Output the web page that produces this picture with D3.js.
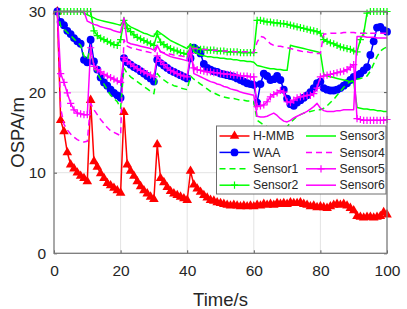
<!DOCTYPE html>
<html><head><meta charset="utf-8">
<script src="https://cdn.jsdelivr.net/npm/d3@7"></script>
<style>body{margin:0;background:#fff} svg{display:block} text{font-family:"Liberation Sans",Arial,Helvetica,sans-serif;fill:#262626}</style>
</head><body><svg id="c" width="407" height="309"></svg>
<script>
const time = d3.range(1, 101);
const hmmb = [30,16.5,15.1,12.5,11.0,10.5,10.0,9.6,9.3,8.9,
  19.0,11.4,10.7,9.9,9.3,8.7,8.4,8.1,7.8,7.5,
  17.5,11.0,10.2,9.6,8.9,8.3,7.8,7.4,7.0,6.7,
  13.5,9.3,8.8,8.2,7.7,7.4,7.2,7.0,6.8,6.6,
  10.2,8.5,8.0,7.6,7.2,6.9,6.6,6.5,6.3,6.2,
  6.1,6.0,5.9,6.0,5.9,5.8,5.9,5.8,5.9,5.8,
  6.0,5.9,6.1,6.0,6.1,6.0,6.2,6.1,6.2,6.1,
  6.3,6.2,6.2,6.3,6.1,6.0,5.8,5.9,5.7,5.8,
  5.7,5.6,5.8,6.0,6.1,6.0,6.1,5.9,5.6,5.3,
  4.6,4.5,4.4,4.5,4.5,4.4,4.5,4.6,5.1,4.8];
const waa = [30,28.7,28.3,27.6,27.2,26.7,26.3,26.0,24.0,23.7,
  26.5,23.8,22.8,21.8,21.2,20.8,20.3,19.9,19.6,19.3,
  24.2,23.7,23.4,23.1,22.9,22.6,22.3,22.0,21.7,21.3,
  24.0,23.6,23.3,23.0,22.7,22.5,22.3,22.1,21.9,21.7,
  24.2,25.5,25.2,24.8,23.5,23.0,22.8,22.6,22.5,22.3,
  22.2,22.1,22.0,21.9,21.7,21.5,21.3,21.1,21.0,20.9,
  18.7,21.0,22.3,22.0,21.5,21.6,22.0,21.5,20.3,19.2,
  18.5,18.3,18.7,19.0,19.3,19.6,20.0,20.5,21.1,21.3,
  20.5,20.3,20.2,20.2,20.3,20.5,20.8,21.1,21.5,21.9,
  22.1,22.3,22.7,23.1,24.6,26.3,28.0,28.1,27.7,27.5];
const sensor1 = [30,28.2,27.8,27.4,27.0,26.6,26.2,25.8,24.5,24.0,
  25.5,23.0,22.3,21.6,21.0,20.3,19.6,19.2,18.8,18.0,
  23.0,22.3,21.9,21.6,21.3,21.0,20.7,20.4,20.1,19.8,
  22.3,21.8,21.5,21.2,21.0,20.8,20.7,20.5,20.4,20.3,
  22.0,21.6,21.3,21.0,20.7,20.4,20.1,19.9,19.7,19.5,
  19.4,19.3,19.2,19.2,19.1,19.0,19.0,18.9,18.9,18.8,
  16.5,16.2,15.9,15.7,15.5,15.4,15.3,15.3,15.4,15.7,
  16.2,16.6,17.0,17.2,17.4,17.5,17.6,17.7,17.8,17.8,
  18.0,18.3,18.7,19.1,19.6,20.1,20.6,21.0,21.3,21.5,
  21.6,21.7,21.8,22.0,22.6,23.5,24.4,25.1,25.4,25.6];
const sensor2 = [30,30,30,30,30,30,30,30,30,30,
  30,27.6,27.0,26.7,26.5,26.3,26.1,25.9,25.8,26.5,
  28.9,27.9,27.5,27.1,26.8,26.6,26.4,26.2,26.0,25.8,
  27.2,26.2,25.9,25.6,25.4,25.2,25.1,24.9,24.8,24.7,
  25.6,25.5,25.4,25.3,25.3,25.2,25.2,25.2,25.1,25.1,
  25.1,25.0,25.0,25.0,25.0,24.9,24.9,24.9,24.9,24.9,
  28.9,28.9,28.8,28.7,28.7,28.6,28.6,28.5,28.5,28.4,
  28.3,28.2,28.1,28.0,27.9,27.8,27.7,27.6,27.5,27.3,
  26.5,26.3,26.1,26.0,25.8,25.6,25.5,25.4,25.3,25.1,
  25.0,26.5,27.3,29.8,30,30,30,30,30,30];
const sensor3 = [30,30,30,30,30,30,30,30,29.8,29.6,
  29.4,29.2,29.0,28.9,28.8,28.7,28.6,28.5,28.4,28.3,
  29.0,28.4,28.1,27.9,27.7,27.5,27.3,27.2,27.0,26.9,
  27.6,27.3,27.0,26.7,26.4,26.2,26.0,25.8,25.6,25.4,
  26.0,25.0,24.8,24.6,24.5,24.4,24.4,24.3,24.3,24.2,
  24.2,24.1,24.1,24.0,24.0,23.9,23.9,23.8,23.8,23.7,
  23.3,23.2,23.1,23.0,22.9,22.9,22.8,22.8,22.7,22.7,
  25.8,25.7,25.6,25.5,25.4,25.3,25.2,25.1,25.0,24.9,
  22.2,22.0,21.9,21.8,21.7,21.6,21.5,21.4,21.3,21.3,
  18.1,18.0,17.9,17.9,17.8,17.8,17.7,17.7,17.6,17.6];
const sensor4 = [30,18.0,16.0,15.3,14.8,14.4,14.1,13.9,13.8,13.9,
  18.6,17.8,17.2,16.6,16.1,15.6,15.2,15.0,14.8,14.6,
  26.5,25.7,25.5,25.4,25.3,25.2,25.1,25.0,24.9,24.8,
  25.6,25.0,24.9,24.8,24.7,24.6,24.5,24.5,24.4,24.4,
  25.5,25.4,25.4,25.3,25.3,25.3,25.2,25.2,25.2,25.1,
  25.1,25.1,25.1,25.0,25.0,25.0,25.0,25.0,24.9,24.9,
  26.2,26.9,26.8,26.4,26.0,25.8,25.7,25.7,25.6,25.5,
  25.4,25.3,25.2,25.1,25.0,25.0,24.9,24.9,24.8,24.8,
  27.2,27.2,27.3,27.3,27.3,27.3,27.4,27.4,27.4,27.4,
  27.3,27.3,27.3,27.3,27.3,27.3,27.3,27.3,27.3,27.3];
const sensor5 = [30,22.3,21.2,19.9,18.6,17.8,17.4,17.3,17.2,17.2,
  25.5,23.2,22.8,22.5,22.2,22.0,21.8,21.6,21.4,21.2,
  24.3,23.8,23.5,23.2,22.9,22.7,22.5,22.3,22.1,21.9,
  24.5,23.8,23.4,23.0,22.7,22.5,22.3,22.1,22.0,21.9,
  24.8,23.0,22.8,22.7,22.6,22.5,22.5,22.4,22.4,22.3,
  22.3,22.2,22.2,22.1,22.1,22.0,22.0,22.0,21.9,21.9,
  18.2,18.3,18.4,18.8,19.4,19.7,19.9,20.2,20.0,18.8,
  18.7,19.0,19.3,19.4,19.5,19.6,19.6,19.8,20.5,21.9,
  22.0,22.1,22.2,22.3,22.4,22.5,22.6,22.8,23.1,23.4,
  16.7,16.6,16.5,16.5,16.5,16.5,16.5,16.5,16.5,16.6];
const sensor6 = [30,30,30,30,30,30,30,30,30,28.8,
  28.6,28.4,28.3,28.1,28.0,27.9,27.8,27.6,27.5,27.4,
  29.2,26.2,26.0,25.9,25.8,25.7,25.6,25.5,25.4,25.2,
  25.8,25.0,24.8,24.6,24.4,24.3,24.2,24.1,24.0,23.9,
  25.6,22.3,22.1,21.9,21.7,21.5,21.3,21.2,21.0,20.9,
  20.7,20.6,20.4,20.3,20.2,20.0,19.9,19.8,19.7,19.6,
  17.0,16.9,16.9,17.0,17.2,17.4,17.1,16.7,16.4,16.3,
  16.5,16.8,17.0,17.2,17.4,17.6,17.9,18.2,18.6,18.0,
  17.7,17.6,17.6,17.6,17.7,17.7,17.8,17.8,17.8,17.8,
  26.9,26.9,26.9,26.8,26.8,26.8,26.7,26.7,26.7,26.7];
const xTicks = [0,20,40,60,80,100];
const yTicks = [0,10,20,30];

const series = [
  {name:"H-MMB", v:hmmb, color:"#ff0000", dash:null, marker:"tri"},
  {name:"WAA", v:waa, color:"#0000ff", dash:null, marker:"circle"},
  {name:"Sensor1", v:sensor1, color:"#00ff00", dash:"6,4", marker:null},
  {name:"Sensor2", v:sensor2, color:"#00ff00", dash:null, marker:"plus"},
  {name:"Sensor3", v:sensor3, color:"#00ff00", dash:null, marker:null},
  {name:"Sensor4", v:sensor4, color:"#ff00ff", dash:"6,4", marker:null},
  {name:"Sensor5", v:sensor5, color:"#ff00ff", dash:null, marker:"plus"},
  {name:"Sensor6", v:sensor6, color:"#ff00ff", dash:null, marker:null}
];

const svg = d3.select("#c");
const x = d3.scaleLinear().domain([0,100]).range([54,387]);
const y = d3.scaleLinear().domain([0,30]).range([253.3,11.5]);
const [x0,x1] = x.range(), [y0,y1] = y.range();

// grid
const grid = svg.append("g").attr("stroke","#e3e3e3").attr("stroke-width",1);
xTicks.slice(1,-1).forEach(t=>grid.append("line").attr("x1",x(t)).attr("x2",x(t)).attr("y1",y0).attr("y2",y1));
yTicks.slice(1,-1).forEach(t=>grid.append("line").attr("y1",y(t)).attr("y2",y(t)).attr("x1",x0).attr("x2",x1));

const triPath = d3.symbol(d3.symbolTriangle, 40)();
function drawMarker(g, type, color, cx, cy){
  if(type==="circle"){
    g.append("circle").attr("cx",cx).attr("cy",cy).attr("r",3.9).attr("fill",color);
  } else if(type==="tri"){
    g.append("path").attr("d",triPath).attr("transform",`translate(${cx},${cy})`).attr("fill",color);
  } else if(type==="plus"){
    g.append("path").attr("d","M-3.6,0H3.6M0,-3.6V3.6").attr("transform",`translate(${cx},${cy})`)
      .attr("stroke",color).attr("stroke-width",1.2).attr("fill","none");
  }
}

const line = d3.line().x((d,i)=>x(time[i])).y(d=>y(d));
const plot = svg.append("g");
series.forEach(s=>{
  const g = plot.append("g");
  g.append("path").attr("d",line(s.v)).attr("fill","none").attr("stroke",s.color)
    .attr("stroke-width",1.5).attr("stroke-dasharray",s.dash).attr("stroke-linejoin","round");
  if(s.marker) s.v.forEach((v,i)=>drawMarker(g,s.marker,s.color,x(time[i]),y(v)));
});

// axes
const ax = svg.append("g");
const xb = ax.append("g").attr("transform",`translate(0,${y0})`)
  .call(d3.axisBottom(x).tickValues(xTicks).tickSize(-3).tickPadding(12));
const yl = ax.append("g").attr("transform",`translate(${x0},0)`)
  .call(d3.axisLeft(y).tickValues(yTicks).tickSize(-3).tickPadding(8));
const xt = ax.append("g").attr("transform",`translate(0,${y1})`)
  .call(d3.axisTop(x).tickValues(xTicks).tickSize(-3).tickFormat(""));
const yr = ax.append("g").attr("transform",`translate(${x1},0)`)
  .call(d3.axisRight(y).tickValues(yTicks).tickSize(-3).tickFormat(""));
[xb,yl,xt,yr].forEach(g=>{
  g.select(".domain").remove();
  g.selectAll(".tick line").attr("stroke","#555");
  g.selectAll("text").attr("font-size","15.5px").attr("fill","#262626")
    .style("font-family",'"Liberation Sans",Arial,sans-serif');
});
svg.append("rect").attr("x",x0).attr("y",y1).attr("width",x1-x0).attr("height",y0-y1)
  .attr("fill","none").attr("stroke","#7a7a7a").attr("stroke-width",1.3);

// labels
svg.append("text").attr("x",(x0+x1)/2).attr("y",306).attr("text-anchor","middle")
  .attr("font-size","18.5px").text("Time/s");
svg.append("text").attr("transform",`translate(24,${(y0+y1)/2}) rotate(-90)`).attr("text-anchor","middle")
  .attr("font-size","18.5px").text("OSPA/m");

// legend
const lg = svg.append("g");
lg.append("rect").attr("x",216.5).attr("y",126).attr("width",169.5).attr("height",68)
  .attr("fill","#fff").attr("stroke","#6e6e6e").attr("stroke-width",1);
series.forEach((s,i)=>{
  const col = Math.floor(i/4), row = i%4;
  const lx = col===0 ? 219.5 : 306, ly = 136 + row*16.4;
  const g = lg.append("g");
  g.append("line").attr("x1",lx).attr("x2",lx+30).attr("y1",ly).attr("y2",ly)
    .attr("stroke",s.color).attr("stroke-width",1.5).attr("stroke-dasharray",s.dash);
  if(s.marker) drawMarker(g,s.marker,s.color,lx+15,ly);
  g.append("text").attr("x",lx+33.5).attr("y",ly).attr("dy","0.35em").attr("font-size","12.2px").text(s.name);
});
</script></body></html>
